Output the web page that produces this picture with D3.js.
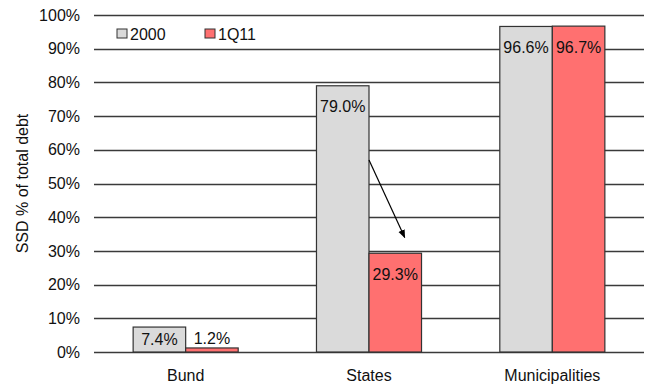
<!DOCTYPE html>
<html>
<head>
<meta charset="utf-8">
<script src="https://cdn.jsdelivr.net/npm/d3@7"></script>
<style>
  body { margin: 0; background: #fff; }
  text { font-family: "Liberation Sans", Arial, sans-serif; fill: #111; }
</style>
</head>
<body>
<div id="chart"></div>
<script>
const categories = ["Bund", "States", "Municipalities"];
const seriesNames = ["2000", "1Q11"];
const values2000 = [0.074, 0.790, 0.966];
const values1Q11 = [0.012, 0.293, 0.967];
const yTicks = [0, 0.1, 0.2, 0.3, 0.4, 0.5, 0.6, 0.7, 0.8, 0.9, 1.0];
const colors = ["#dadada", "#ff7070"];
// annotation arrow: States, from 2000 bar to 1Q11 bar
const arrowFrom = 0.57, arrowTo = 0.34;

const W = 651, H = 387;
const margin = {top: 15, right: 7, bottom: 35, left: 94};
const width = W - margin.left - margin.right;
const height = H - margin.top - margin.bottom;
const fs = "16px";

const svg = d3.select("#chart").append("svg")
    .attr("width", W)
    .attr("height", H);

const defs = svg.append("defs");
defs.append("marker")
    .attr("id", "arrow")
    .attr("viewBox", "0 0 10 10")
    .attr("refX", 9).attr("refY", 5)
    .attr("markerWidth", 7).attr("markerHeight", 7)
    .attr("orient", "auto")
    .append("path")
    .attr("d", "M0,1 L10,5 L0,9 Z")
    .attr("fill", "#000");

const g = svg.append("g")
    .attr("transform", "translate(" + margin.left + "," + margin.top + ")");

const x0 = d3.scaleBand().domain(categories).range([0, width]).padding(0);
const groupW = x0.bandwidth() * 0.573;
const x1 = d3.scaleBand().domain(seriesNames)
    .range([(x0.bandwidth() - groupW) / 2, (x0.bandwidth() + groupW) / 2]).padding(0);
const y = d3.scaleLinear().domain([0, 1]).range([height, 0]);

// gridlines
g.append("g")
    .selectAll("line")
    .data(yTicks)
    .join("line")
    .attr("x1", 0).attr("x2", width)
    .attr("y1", d => Math.round(y(d)) + 0.5)
    .attr("y2", d => Math.round(y(d)) + 0.5)
    .attr("stroke", "#3a3a3a")
    .attr("stroke-width", 1.3);

// y tick labels
g.append("g")
    .selectAll("text")
    .data(yTicks)
    .join("text")
    .attr("x", -14)
    .attr("y", d => y(d))
    .attr("dy", "0.35em")
    .attr("text-anchor", "end")
    .style("font-size", fs)
    .text(d => d3.format(".0%")(d));

// y axis title
g.append("text")
    .attr("transform", "translate(" + (-72) + "," + (height / 2) + ") rotate(-90)")
    .attr("dy", "0.35em")
    .attr("text-anchor", "middle")
    .style("font-size", fs)
    .text("SSD % of total debt");

const rows = categories.map((c, i) => ({
    cat: c,
    vals: [{s: "2000", v: values2000[i], k: 0}, {s: "1Q11", v: values1Q11[i], k: 1}]
}));

const groups = g.append("g")
    .selectAll("g")
    .data(rows)
    .join("g")
    .attr("transform", d => "translate(" + x0(d.cat) + ",0)");

groups.selectAll("rect")
    .data(d => d.vals)
    .join("rect")
    .attr("x", d => x1(d.s))
    .attr("y", d => y(d.v))
    .attr("width", x1.bandwidth())
    .attr("height", d => y(0) - y(d.v))
    .attr("fill", d => colors[d.k])
    .attr("stroke", "#333")
    .attr("stroke-width", 1.2);

// value labels: inside end of bar if tall enough, else just above
groups.selectAll("text.val")
    .data(d => d.vals)
    .join("text")
    .attr("class", "val")
    .attr("x", d => x1(d.s) + x1.bandwidth() / 2)
    .attr("y", d => {
        const h = y(0) - y(d.v);
        return h > 20 ? y(d.v) + Math.min(21, h / 2) : y(d.v) - 10;
    })
    .attr("dy", "0.35em")
    .attr("text-anchor", "middle")
    .style("font-size", fs)
    .text(d => d3.format(".1%")(d.v));

// category labels
g.append("g")
    .selectAll("text")
    .data(categories)
    .join("text")
    .attr("x", d => x0(d) + x0.bandwidth() / 2)
    .attr("y", height + 29)
    .attr("text-anchor", "middle")
    .style("font-size", fs)
    .text(d => d);

// annotation arrow
const sx = x0("States") + x1("2000") + x1.bandwidth();
const ex = x0("States") + x1("1Q11") + x1.bandwidth() * 0.68;
g.append("line")
    .attr("x1", sx).attr("y1", y(arrowFrom))
    .attr("x2", ex).attr("y2", y(arrowTo))
    .attr("stroke", "#000")
    .attr("stroke-width", 1.2)
    .attr("marker-end", "url(#arrow)");

// legend
const legend = g.append("g")
    .attr("transform", "translate(23,14)");
const li = legend.selectAll("g")
    .data(seriesNames)
    .join("g")
    .attr("transform", (d, i) => "translate(" + (i * 88) + ",0)");
li.append("rect")
    .attr("x", 0).attr("y", 0)
    .attr("width", 10).attr("height", 9)
    .attr("fill", (d, i) => colors[i])
    .attr("stroke", "#333")
    .attr("stroke-width", 1);
li.append("text")
    .attr("x", 13).attr("y", 5)
    .attr("dy", "0.35em")
    .style("font-size", fs)
    .text(d => d);
</script>
</body>
</html>
